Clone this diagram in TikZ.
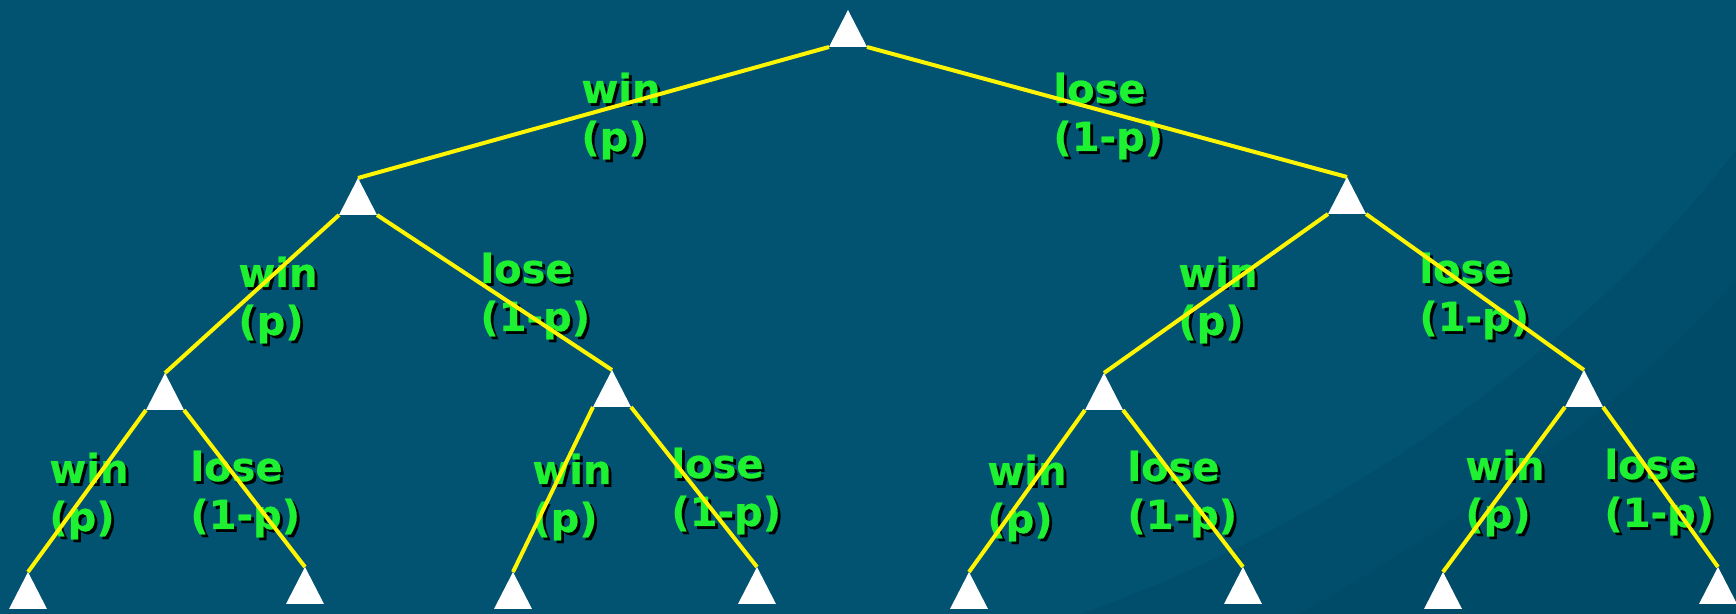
\documentclass[tikz,border=0pt]{standalone}
\usepackage{fontspec}
\setmainfont{DejaVu Sans}[BoldFeatures={FakeBold=0.6}]
\definecolor{bg}{RGB}{1,83,113}
\definecolor{bgdark}{RGB}{0,66,90}
\definecolor{lblgreen}{RGB}{30,240,50}
\definecolor{branchyellow}{RGB}{255,245,0}
\tikzset{
  lbl/.style={font=\fontsize{20}{24}\selectfont\bfseries, text=lblgreen, inner sep=0pt, anchor=base west},
  lblshadow/.style={lbl, text=black, xshift=1.4pt, yshift=-1.4pt},
  branch/.style={draw=branchyellow, line width=2pt},
  trifill/.style={fill=white}
}
\newcommand{\mktri}[3]{%
  \coordinate (#1) at (#2,#3);
  \coordinate (#1-l) at ({#2-19},{#3+37});
  \coordinate (#1-r) at ({#2+19},{#3+37});
  \path[trifill] (#1) -- (#1-l) -- (#1-r) -- cycle;}
\newcommand{\mklbl}[5]{%
  \node[lblshadow] at (#2,#3) {\vtop{\hbox{#4}\hbox{#5}}};
  \node[lbl] (#1) at (#2,#3) {\vtop{\hbox{#4}\hbox{#5}}};}
\begin{document}
\begin{tikzpicture}[x=0.5pt,y=-0.5pt]
\useasboundingbox (0,0) rectangle (1736,614);
\fill[bg] (0,0) rectangle (1736,614);
\fill[bgdark, opacity=0.25] (1080,614) .. controls (1350,520) and (1600,330) .. (1736,150) -- (1736,614) -- cycle;
\fill[bgdark, opacity=0.2] (1300,614) .. controls (1500,500) and (1650,380) .. (1736,280) -- (1736,614) -- cycle;
% labels
\mklbl{l1}{581}{103}{win}{(p)}
\mklbl{l2}{1053}{103}{lose}{(1-p)}
\mklbl{l3}{238}{287}{win}{(p)}
\mklbl{l4}{480}{283}{lose}{(1-p)}
\mklbl{l5}{1178}{287}{win}{(p)}
\mklbl{l6}{1419}{283}{lose}{(1-p)}
\mklbl{l7}{49}{483}{win}{(p)}
\mklbl{l8}{190}{481}{lose}{(1-p)}
\mklbl{l9}{532}{484}{win}{(p)}
\mklbl{l10}{671}{478}{lose}{(1-p)}
\mklbl{l11}{987}{485}{win}{(p)}
\mklbl{l12}{1127}{481}{lose}{(1-p)}
\mklbl{l13}{1465}{480}{win}{(p)}
\mklbl{l14}{1604}{479}{lose}{(1-p)}
% triangles
\mktri{t0}{848}{10}
\mktri{t1}{358}{178}
\mktri{t2}{1347}{177}
\mktri{t3}{165}{373}
\mktri{t4}{612}{370}
\mktri{t5}{1104}{373}
\mktri{t6}{1584}{370}
\mktri{t7}{28}{572}
\mktri{t8}{305}{567}
\mktri{t9}{513}{572}
\mktri{t10}{757}{567}
\mktri{t11}{969}{572}
\mktri{t12}{1243}{567}
\mktri{t13}{1443}{572}
\mktri{t14}{1718}{567}
% branches
\draw[branch] (t0-l) -- (t1);
\draw[branch] (t0-r) -- (t2);
\draw[branch] (t1-l) -- (t3);
\draw[branch] (t1-r) -- (t4);
\draw[branch] (t2-l) -- (t5);
\draw[branch] (t2-r) -- (t6);
\draw[branch] (t3-l) -- (t7);
\draw[branch] (t3-r) -- (t8);
\draw[branch] (t4-l) -- (t9);
\draw[branch] (t4-r) -- (t10);
\draw[branch] (t5-l) -- (t11);
\draw[branch] (t5-r) -- (t12);
\draw[branch] (t6-l) -- (t13);
\draw[branch] (t6-r) -- (t14);
\end{tikzpicture}
\end{document}
